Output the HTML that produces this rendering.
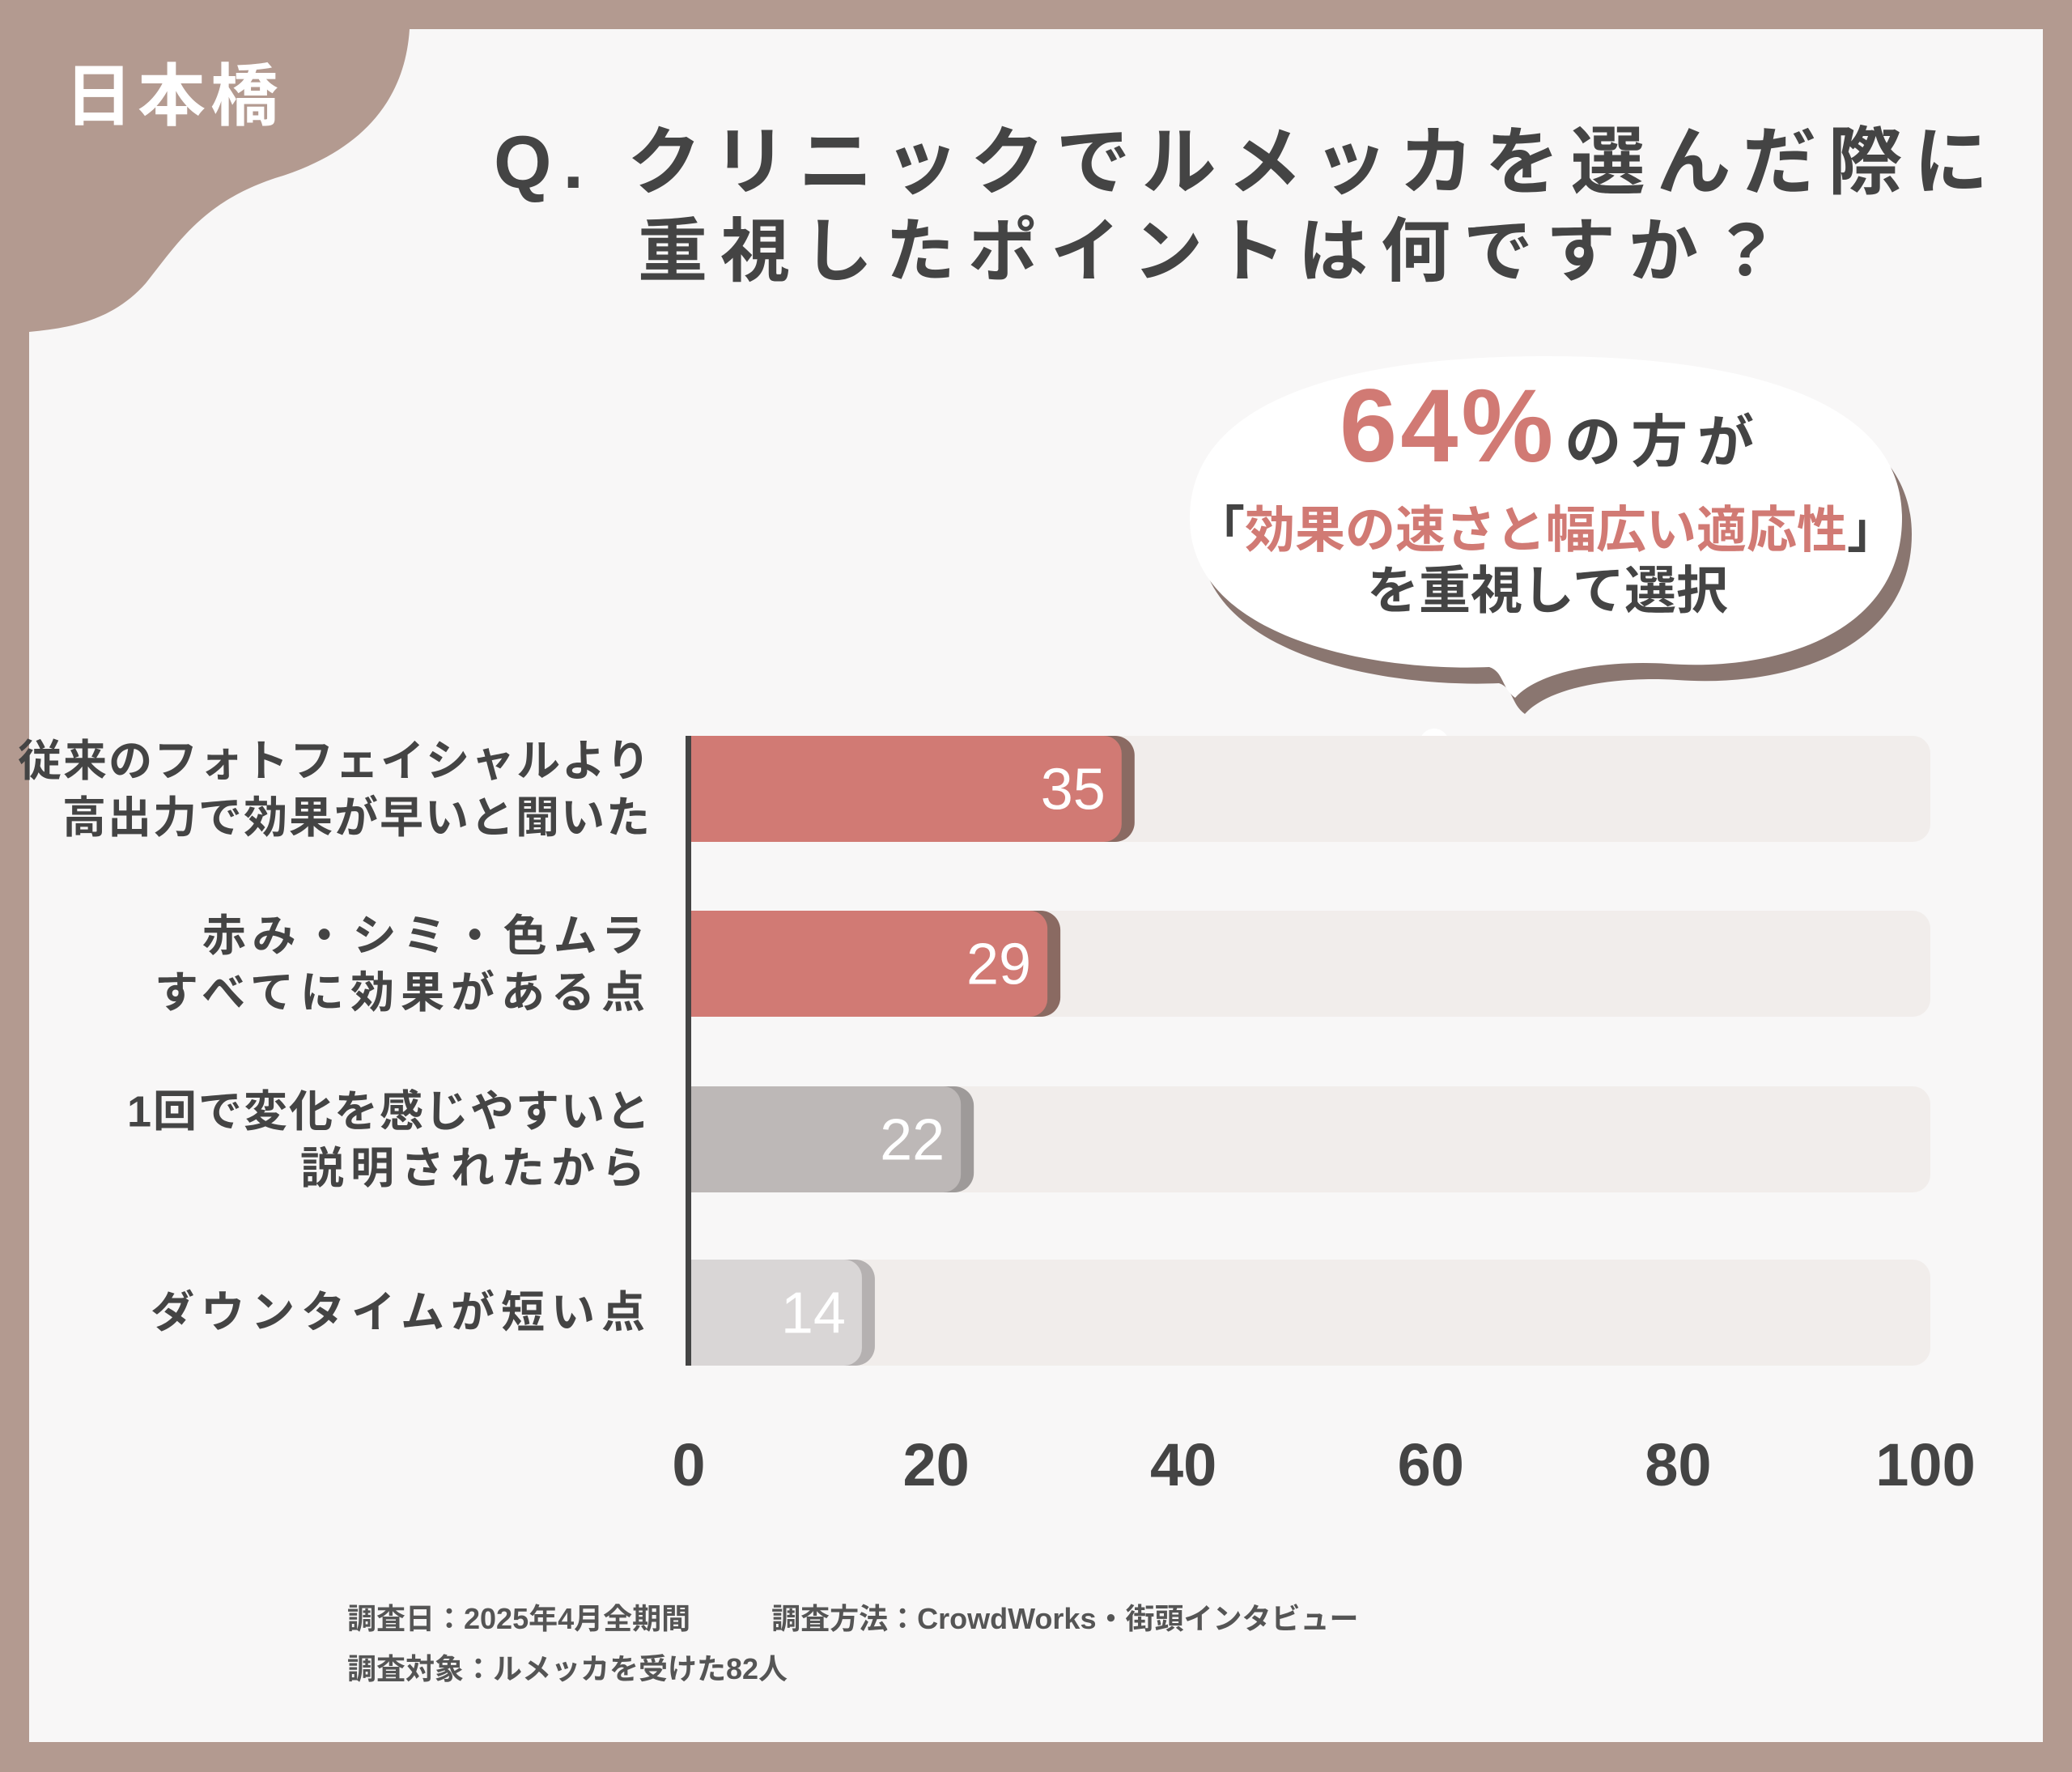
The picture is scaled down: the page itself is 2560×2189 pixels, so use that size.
<!DOCTYPE html>
<html><head><meta charset="utf-8"><style>
html,body{margin:0;padding:0;background:#b39a90;}
svg{display:block;}
text{font-family:"Liberation Sans","Noto Sans CJK JP",sans-serif;}
</style></head><body>
<svg width="2560" height="2189" viewBox="0 0 2560 2189" xmlns="http://www.w3.org/2000/svg">
<rect x="0" y="0" width="2560" height="2189" fill="#b39a90"/>
<rect x="36" y="36" width="2488" height="2116" fill="#f8f7f7"/>
<path d="M36,36 L506,36 C500,130 440,190 340,220 C250,250 220,300 180,350 C140,395 90,405 36,410 Z" fill="#b39a90"/>
<text x="80" y="148" font-size="84" font-weight="bold" fill="#ffffff" letter-spacing="6">日本橋</text>
<text x="610" y="232" font-size="92" font-weight="bold" fill="#444" letter-spacing="14">Q. クリニックでルメッカを選んだ際に</text>
<text x="788" y="340" font-size="86" font-weight="bold" fill="#444" letter-spacing="16">重視したポイントは何ですか？</text>
<g>
<path transform="translate(12,20)" d="M1470,640 C1470,480 1700,440 1910,440 C2120,440 2350,480 2350,640 C2350,780 2200,830 2060,820 C1980,815 1900,830 1872,862 C1855,850 1858,830 1840,824 C1700,830 1470,790 1470,640 Z" fill="#8a7670"/>
<path d="M1470,640 C1470,480 1700,440 1910,440 C2120,440 2350,480 2350,640 C2350,780 2200,830 2060,820 C1980,815 1900,830 1872,862 C1855,850 1858,830 1840,824 C1700,830 1470,790 1470,640 Z" fill="#ffffff"/>
<circle cx="1778" cy="930" r="18" fill="#8a7670"/><circle cx="1772" cy="918" r="18" fill="#fff"/>
<circle cx="1722" cy="952" r="10" fill="#8a7670"/><circle cx="1720" cy="940" r="10" fill="#fff"/>
<text x="1655" y="570" font-size="128" font-weight="bold" fill="#d17a74" letter-spacing="4">64%<tspan font-size="70" fill="#444" dx="10" letter-spacing="12">の方が</tspan></text>
<text x="1910" y="676" font-size="62" text-anchor="middle" font-weight="bold" fill="#444">「<tspan fill="#d17a74">効果の速さと幅広い適応性</tspan>」</text>
<text x="1912" y="752" font-size="64" text-anchor="middle" font-weight="bold" fill="#444">を重視して選択</text>
</g>
<g id="plot"></g>
<text x="429" y="2012" font-size="36" font-weight="bold" fill="#555">調査日：2025年4月全期間<tspan dx="100">調査方法：CrowdWorks・街頭インタビュー</tspan></text>
<text x="429" y="2074" font-size="36" font-weight="bold" fill="#555">調査対象：ルメッカを受けた82人</text>
</svg>
<script>
const categories = [["従来のフォトフェイシャルより","高出力で効果が早いと聞いた"],["赤み・シミ・色ムラ","すべてに効果がある点"],["1回で変化を感じやすいと","説明されたから"],["ダウンタイムが短い点"]];
const values = [35, 29, 22, 14];
const ticks = [0, 20, 40, 60, 80, 100];
const NS = "http://www.w3.org/2000/svg";
const g = document.getElementById('plot');
const x0 = 851, x1 = 2379, xmax = 100;
const xs = v => x0 + (v / xmax) * (x1 - x0);
const rowTop = [909, 1125, 1342, 1556], bh = 131;
const fills = ['#d17a74','#d17a74','#bdb8b7','#d9d6d6'];
const shades = ['#8a6a62','#8a6a62','#9e9a99','#b5b1b1'];
function mk(tag, attrs){const e=document.createElementNS(NS,tag);for(const k in attrs)e.setAttribute(k,attrs[k]);g.appendChild(e);return e;}
values.forEach((v,i)=>{
  const y = rowTop[i];
  const tr = mk('rect',{x:x0,y:y,width:xs(100)-x0+6,height:bh,rx:22,fill:'#f1edeb'});
  
  
  const sh = mk('rect',{x:x0,y:y,width:xs(v)-x0+16,height:bh,rx:24,fill:shades[i]});
  
  
  const b = mk('rect',{x:x0,y:y,width:xs(v)-x0,height:bh,rx:22,fill:fills[i]});
  
  
  const r2 = mk('rect',{x:x0,y:y,width:40,height:bh,fill:fills[i]});
  
  
  const t = mk('text',{x:xs(v)-20,y:y+bh/2+25,'font-size':72,fill:'#fff','text-anchor':'end','font-family':'Liberation Sans Narrow, Liberation Sans, sans-serif'});
  t.textContent = v;
  
  
  const lines = categories[i];
  lines.forEach((ln,j)=>{
    const cy = y + bh/2 + (lines.length===1?0:(j===0?-34:36)) + 18;
    const c = mk('text',{x:805,y:cy,'font-size':54,'font-weight':'bold',fill:'#444','text-anchor':'end','letter-spacing':lines.length===1||ln.length<11?8:2});
    c.textContent = ln;
    
    
  });
});
const ax = mk('rect',{x:x0-4,y:909,width:7,height:1778-909+0,fill:'#444'});
ax.setAttribute('height', 1687-909);


ticks.forEach(tv=>{
  const t = mk('text',{x:xs(tv),y:1835,'font-size':74,'font-weight':'bold',fill:'#444','text-anchor':'middle'});
  t.textContent = tv;
  
  
});
</script>
</body></html>
